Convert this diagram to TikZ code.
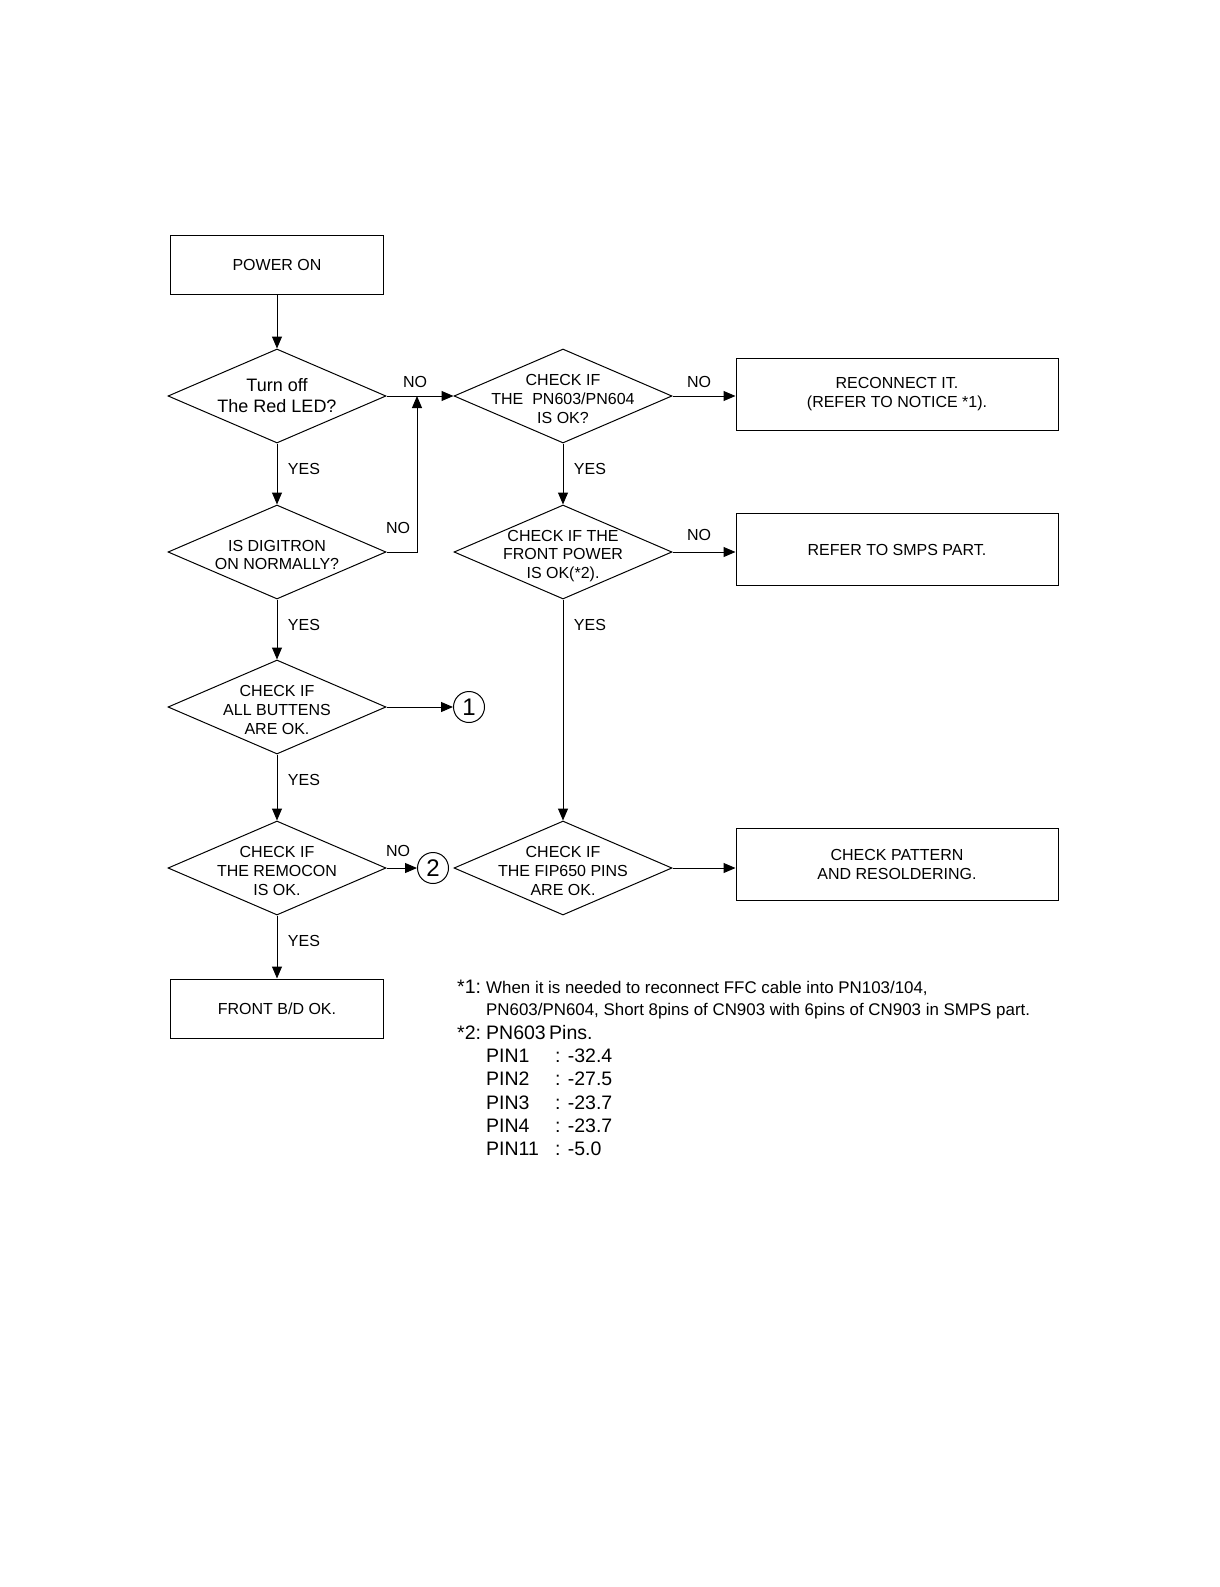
\documentclass[tikz,border=0pt]{standalone}
\usepackage{fontspec}
\setmainfont{Liberation Sans}
\usetikzlibrary{shapes.geometric,arrows.meta}
\begin{document}
\begin{tikzpicture}[x=1pt,y=-1pt,
  box/.style={draw, line width=1pt, minimum width=213pt, minimum height=59pt, inner sep=0pt, font=\fontsize{16}{19}\selectfont, align=center},
  rbox/.style={box, minimum width=322pt, minimum height=72pt},
  dia/.style={draw, shape=diamond, line width=1pt, minimum width=218pt, minimum height=94pt, inner sep=0pt},
  dtext/.style={font=\fontsize{16}{18.8}\selectfont, align=center, inner sep=0pt, yshift=-3pt},
  arr/.style={-{Triangle[length=12pt,width=10pt]}, line width=1pt},
  lab/.style={font=\fontsize{16}{18}\selectfont, inner sep=0pt},
  circ/.style={draw, circle, minimum size=31pt, inner sep=0pt, line width=1pt, font=\fontsize{24}{24}\selectfont},
  note/.style={font=\fontsize{16.9}{20}\selectfont, inner sep=0pt, anchor=base west},
  bignote/.style={font=\fontsize{19.5}{22}\selectfont, inner sep=0pt, anchor=base west}
]
\useasboundingbox (0,0) rectangle (1219,1587);

% left column
\node[box] (p0) at (277,264.5) {POWER ON};
\node[dia] (d1) at (277,396) {};
\node[dtext, font=\fontsize{18}{21}\selectfont, yshift=3.5pt] (d1t) at (d1) {Turn off\\The Red LED?};
\node[dia] (d3) at (277,552) {};
\node[dtext] (d3t) at (d3) {IS DIGITRON\\ON NORMALLY?};
\node[dia] (d5) at (277,707) {};
\node[dtext] (d5t) at (d5) {CHECK IF\\ALL BUTTENS\\ARE OK.};
\node[dia] (d6) at (277,868) {};
\node[dtext] (d6t) at (d6) {CHECK IF\\THE REMOCON\\IS OK.};
\node[box] (fb) at (277,1008.5) {FRONT B/D OK.};

% middle column
\node[dia] (d2) at (563,396) {};
\node[dtext] (d2t) at (d2) {CHECK IF\\THE\ \ PN603/PN604\\IS OK?};
\node[dia] (d4) at (563,552) {};
\node[dtext, yshift=-1pt] (d4t) at (d4) {CHECK IF THE\\FRONT POWER\\IS OK(*2).};
\node[dia] (d7) at (563,868) {};
\node[dtext] (d7t) at (d7) {CHECK IF\\THE FIP650 PINS\\ARE OK.};

% right boxes
\node[rbox] (r1) at (897,394) {RECONNECT IT.\\(REFER TO NOTICE *1).};
\node[rbox] (r2) at (897,549.5) {REFER TO SMPS PART.};
\node[rbox] (r3) at (897,864.5) {CHECK PATTERN\\AND RESOLDERING.};

% connectors
\node[circ] (c1) at (469,707) {1};
\node[circ] (c2) at (433,868) {2};
\coordinate (j) at (417,396);

\draw[arr] (p0.south) -- (d1.north);
\draw[arr] (d1.south) -- (d3.north);
\draw[arr] (d3.south) -- (d5.north);
\draw[arr] (d5.south) -- (d6.north);
\draw[arr] (d6.south) -- (fb.north);
\draw[arr] (d1.east) -- (d2.west);
\draw[arr] (d3.east) -| (j);
\draw[arr] (d5.east) -- (c1.west);
\draw[arr] (d6.east) -- (c2.west);
\draw[arr] (d2.east) -- (d2.east -| r1.west);
\draw[arr] (d4.east) -- (d4.east -| r2.west);
\draw[arr] (d7.east) -- (d7.east -| r3.west);
\draw[arr] (d2.south) -- (d4.north);
\draw[arr] (d4.south) -- (d7.north);

% labels
\node[lab] (l1) at (415,382) {NO};
\node[lab] (l2) at (699,382) {NO};
\node[lab] (l3) at (398,528) {NO};
\node[lab] (l4) at (699,535) {NO};
\node[lab] (l5) at (398,851) {NO};
\node[lab] (y1) at (304,469) {YES};
\node[lab] (y2) at (590,469) {YES};
\node[lab] (y3) at (304,625) {YES};
\node[lab] (y4) at (590,625) {YES};
\node[lab] (y5) at (304,780) {YES};
\node[lab] (y6) at (304,941) {YES};

% notes
\node[bignote] (n1a) at (457,993) {*1:};
\node[note] (n1b) at (486,993) {When it is needed to reconnect FFC cable into PN103/104,};
\node[note] (n1c) at (486,1015.5) {PN603/PN604, Short 8pins of CN903 with 6pins of CN903 in SMPS part.};
\node[bignote] (n2a) at (457,1039) {*2:};
\node[bignote] (n2b) at (486,1039) {PN603};
\node[bignote] (n2c) at (549,1039) {Pins.};
\node[bignote] (p1) at (486,1062) {PIN1};
\node[bignote] (p2) at (486,1085) {PIN2};
\node[bignote] (p3) at (486,1109) {PIN3};
\node[bignote] (p4) at (486,1132) {PIN4};
\node[bignote] (p5) at (486,1155) {PIN11};
\node[bignote] (v1) at (555,1062) {: -32.4};
\node[bignote] (v2) at (555,1085) {: -27.5};
\node[bignote] (v3) at (555,1109) {: -23.7};
\node[bignote] (v4) at (555,1132) {: -23.7};
\node[bignote] (v5) at (555,1155) {: -5.0};
\end{tikzpicture}
\end{document}
